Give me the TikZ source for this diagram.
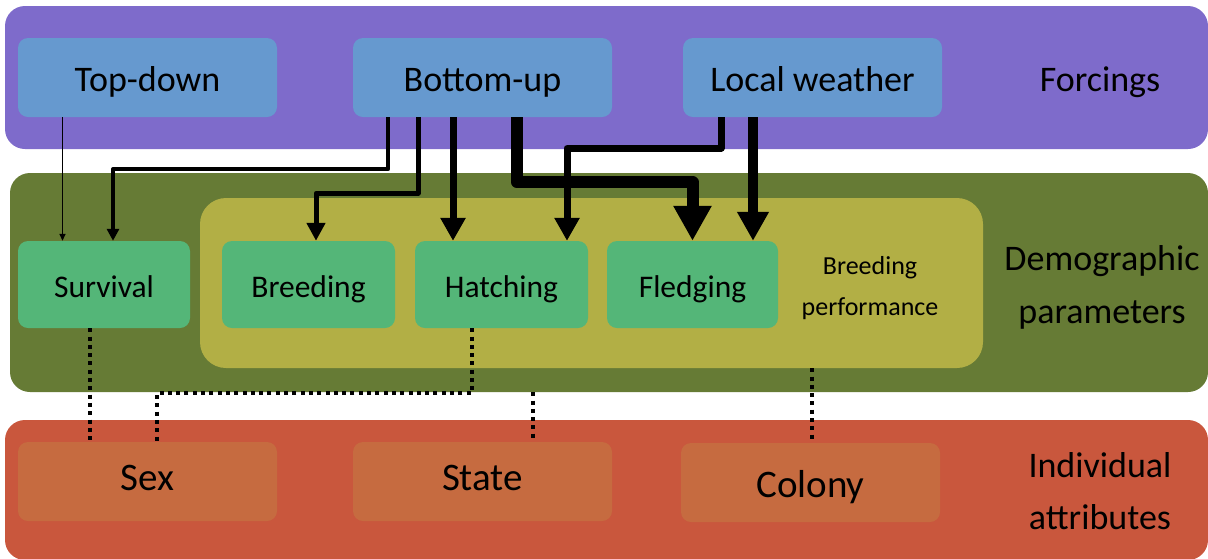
\documentclass[tikz,border=0pt]{standalone}
\usepackage{fontspec}
\setmainfont{Carlito}
\usetikzlibrary{arrows.meta}

\definecolor{forcingband}{HTML}{7E6BCB}
\definecolor{forcingbox}{HTML}{6699CF}
\definecolor{demoband}{HTML}{667B35}
\definecolor{perfband}{HTML}{B2AF45}
\definecolor{demobox}{HTML}{54B678}
\definecolor{attrband}{HTML}{C9573D}
\definecolor{attrbox}{HTML}{C66B40}

\begin{document}
\begin{tikzpicture}[x=1pt,y=-1pt,
    arr1/.style={line width=1.5pt,-{Triangle[length=7pt,width=6pt]}},
    arr2/.style={line width=4pt,line join=round,-{Triangle[length=12pt,width=12pt]}},
    arr3/.style={line width=5pt,line join=round,-{Triangle[length=18pt,width=18pt]}},
    arr4/.style={line width=7pt,line join=round,-{Triangle[length=23pt,width=24pt]}},
    arr5/.style={line width=10pt,-{Triangle[length=29pt,width=30pt]}},
    arr6/.style={line width=12pt,line join=round,-{Triangle[length=35pt,width=36pt]}},
    attrlink/.style={line width=4pt,dash pattern=on 4pt off 4.3pt}]

        \useasboundingbox (0,0) rectangle (1208,558);

        % bands
        \begin{scope}[every node/.style={inner sep=0pt, rounded corners=20pt}]
          \node[fill=forcingband, minimum width=1203, minimum height=143] (A) at (606.5,77.5) {};
          \node[fill=demoband, minimum width=1198, minimum height=219] (B) at (609,282.5) {};
          \node[fill=perfband, minimum width=783, minimum height=170, rounded corners=26pt] (P) at (591.5,283) {};
          \node[fill=attrband, minimum width=1203, minimum height=140] (C) at (606.5,490) {};
        \end{scope}

        \begin{scope}[every node/.style={inner sep=0pt, rounded corners=10pt}]
          \begin{scope}[every node/.append style={fill=forcingbox, minimum width=259, minimum height=79,
              text height=28pt, text depth=0pt, font=\fontsize{36}{43}\selectfont}]
            \node (1) at (147.5,77.5) {Top-down};
            \node (2) at (482.5,77.5) {Bottom-up};
            \node (3) at (812.5,77.5) {Local weather};
          \end{scope}
          \begin{scope}[every node/.append style={fill=demobox, minimum height=87,
              text height=25pt, text depth=0pt, font=\fontsize{31.5}{38}\selectfont}]
            \node[minimum width=172] (4) at (104,284.5)   {Survival};
            \node[minimum width=173] (5) at (308.5,284.5) {Breeding};
            \node[minimum width=173] (6) at (501.5,284.5) {Hatching};
            \node[minimum width=171] (7) at (692.5,284.5) {Fledging};
          \end{scope}
          \begin{scope}[every node/.append style={fill=attrbox, minimum width=259, minimum height=79,
              text height=25pt, text depth=8pt, font=\fontsize{39}{47}\selectfont}]
            \node (8)  at (147.5,481.5) {Sex};
            \node (9)  at (482.5,481.5) {State};
            \node[text height=29pt, text depth=0pt] (10) at (810.5,482.5) {Colony};
          \end{scope}
        \end{scope}

        % band labels
        \node[anchor=base, font=\fontsize{36}{43}\selectfont] (F) at (1100,91) {Forcings};
        \node[align=center, font=\fontsize{36}{53}\selectfont] (D) at (1102,287) {Demographic\\parameters};
        \node[align=center, font=\fontsize{26}{41}\selectfont] (Q) at (870,288) {Breeding\\performance};
        \node[align=center, font=\fontsize{36}{52}\selectfont] (I) at (1100,491) {Individual\\attributes};

        % effects of forcings
        \draw[arr1] ([xshift=-85]1.south) -- ([xshift=-41.5]4.north);
        \draw[arr2] ([xshift=-94.5]2.south) -- ++(0,52) -| ([xshift=9]4.north);
        \draw[arr3] ([xshift=-64.5]2.south) -- ++(0,76) -| ([xshift=7.5]5.north);
        \draw[arr4] ([xshift=-29.5]2.south) -- ([xshift=-48.5]6.north);
        \draw[arr4] ([xshift=-91.5]3.south) -- ++(0,31) -| ([xshift=65.5]6.north);
        \draw[arr6] ([xshift=34.5]2.south) -- ++(0,65) -| (7.north);
        \draw[arr5] ([xshift=-59.5]3.south) -- ([xshift=60.5]7.north);

        % individual attributes
        \draw[attrlink] ([xshift=-14]4.south) -- ([xshift=-57.5]8.north);
        \draw[attrlink] ([xshift=-29.5]6.south) -- ++(0,65) -| ([xshift=9.5]8.north);
        \draw[attrlink] ([xshift=-76]B.south) -- ([xshift=50.5]9.north);
        \draw[attrlink] ([xshift=220.5]P.south) -- ([xshift=1.5]10.north);

      \end{tikzpicture}
\end{document}
